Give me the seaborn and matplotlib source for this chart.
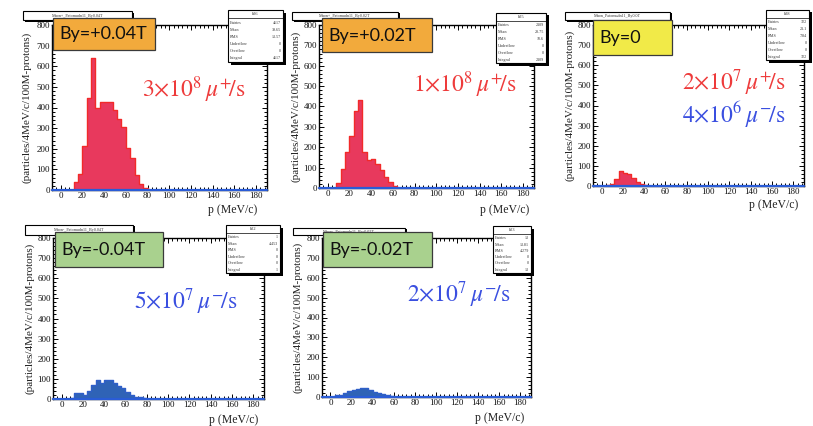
import numpy as np
import pandas as pd
import matplotlib
matplotlib.use("Agg")
import matplotlib.pyplot as plt
from matplotlib.patches import Rectangle
from matplotlib.lines import Line2D
from matplotlib.ticker import MultipleLocator
import seaborn as sns

W, H = 813, 426

# ---------------- data ----------------
field_labels = ["By=+0.04T", "By=+0.02T", "By=0", "By=-0.04T", "By=-0.02T"]
hist_names = ["h26", "h25", "h28", "h22", "h23"]
hist_titles = ["Muon+_Patomudn11_By0.04T", "Muon+_Patomudn11_By0.02T",
               "Muon_Patomudn11_By0.0T", "Muon-_Patomudn11_By0.04T",
               "Muon-_Patomudn11_By-0.02T"]
x_ticks = [0, 20, 40, 60, 80, 100, 120, 140, 160, 180]
y_ticks = [0, 100, 200, 300, 400, 500, 600, 700, 800]

p1_momentum = [14, 18, 22, 26, 30, 34, 38, 42, 46, 50, 54, 58, 62, 66, 70, 74, 78]
p1_counts = [38, 80, 212, 448, 638, 400, 428, 428, 428, 390, 345, 305, 205, 155, 75, 30, 12]

p2_momentum = [10, 14, 18, 22, 26, 30, 34, 38, 42, 46, 50, 54, 58, 62]
p2_counts = [23, 95, 175, 255, 380, 430, 175, 138, 143, 118, 89, 52, 28, 11]

p3_momentum = [6, 10, 14, 18, 22, 26, 30, 34, 38, 42]
p3_counts = [3, 11, 34, 74, 65, 58, 40, 20, 9, 3]

p4_momentum = [10, 14, 18, 22, 26, 30, 34, 38, 42, 46, 50, 54, 58, 62, 66, 70, 74, 78]
p4_counts = [4, 28, 28, 18, 40, 68, 92, 80, 92, 92, 78, 66, 55, 36, 22, 12, 12, 3]

p5_momentum = [6, 10, 14, 18, 22, 26, 30, 34, 38, 42, 46, 50, 54, 58]
p5_counts = [8, 11, 20, 28, 34, 40, 45, 44, 33, 26, 22, 15, 10, 4]

stats_rows = [
    [("Entries", "4617"), ("Mean", "39.65"), ("RMS", "13.57"), ("Underflow", "0"), ("Overflow", "0"), ("Integral", "4617")],
    [("Entries", "2109"), ("Mean", "28.75"), ("RMS", "10.6"), ("Underflow", "0"), ("Overflow", "0"), ("Integral", "2109")],
    [("Entries", "322"), ("Mean", "21.1"), ("RMS", "7.84"), ("Underflow", "0"), ("Overflow", "0"), ("Integral", "322")],
    [("Entries", "1"), ("Mean", "4.453"), ("RMS", "0"), ("Underflow", "0"), ("Overflow", "0"), ("Integral", "1")],
    [("Entries", "13"), ("Mean", "13.81"), ("RMS", "4.279"), ("Underflow", "0"), ("Overflow", "0"), ("Integral", "13")],
]

rate_texts = [
    [r"$3{\times}10^{8}\,\mu^{+}\!/\mathrm{s}$"],
    [r"$1{\times}10^{8}\,\mu^{+}\!/\mathrm{s}$"],
    [r"$2{\times}10^{7}\,\mu^{+}\!/\mathrm{s}$", r"$4{\times}10^{6}\,\mu^{-}\!/\mathrm{s}$"],
    [r"$5{\times}10^{7}\,\mu^{-}\!/\mathrm{s}$"],
    [r"$2{\times}10^{7}\,\mu^{-}\!/\mathrm{s}$"],
]

# ---------------- style ----------------
sns.set_theme(style="white")
plt.rcParams["font.family"] = ["Liberation Serif", "DejaVu Serif"]
plt.rcParams["mathtext.fontset"] = "stix"

RED_FILL, RED_EDGE = "#e8395d", "#f22a2a"
BLUE_FILL, BLUE_EDGE = "#2f63b6", "#2f5fc8"
RED_TXT, BLUE_TXT = "#ee3b3b", "#3a4fe0"
ORANGE, YELLOW, GREEN = "#f2aa3c", "#f1ea48", "#a9d18e"

panels = [
    dict(m=p1_momentum, c=p1_counts, ax=(52, 25, 267, 190), fill=RED_FILL, edge=RED_EDGE,
         box=(53, 18, 155, 50), boxc=ORANGE, title=(23, 11, 132, 20), stats=(228, 10, 283, 62),
         ylab=(27, 107), xlab=(233, 210), rates=[(194, 90, RED_TXT)]),
    dict(m=p2_momentum, c=p2_counts, ax=(319, 25, 534, 188), fill=RED_FILL, edge=RED_EDGE,
         box=(322, 18, 432, 52), boxc=ORANGE, title=(292, 12, 398, 20), stats=(496, 13, 546, 63),
         ylab=(296, 106), xlab=(505, 210), rates=[(465, 85, RED_TXT)]),
    dict(m=p3_momentum, c=p3_counts, ax=(593, 25, 804, 186), fill=RED_FILL, edge=RED_EDGE,
         box=(593, 20, 672, 55), boxc=YELLOW, title=(565, 12, 670, 20), stats=(766, 10, 809, 60),
         ylab=(570, 105), xlab=(774, 205), rates=[(734, 83, RED_TXT), (734, 115, BLUE_TXT)]),
    dict(m=p4_momentum, c=p4_counts, ax=(53, 238, 264, 399), fill=BLUE_FILL, edge=BLUE_EDGE,
         box=(55, 232, 163, 267), boxc=GREEN, title=(25, 225, 133, 235), stats=(226, 225, 280, 273),
         ylab=(30, 318), xlab=(234, 420), rates=[(186, 302, BLUE_TXT)]),
    dict(m=p5_momentum, c=p5_counts, ax=(322, 238, 531, 397), fill=BLUE_FILL, edge=BLUE_EDGE,
         box=(323, 232, 432, 267), boxc=GREEN, title=(293, 228, 405, 235), stats=(493, 226, 531, 273),
         ylab=(298, 317), xlab=(500, 418), rates=[(459, 295, BLUE_TXT)]),
]

fig = plt.figure(figsize=(W / 100, H / 100), dpi=100)
fig.patch.set_facecolor("white")


def fig_rect(x0, y0, x1, y1, **kw):
    r = Rectangle((x0 / W, 1 - y1 / H), (x1 - x0) / W, (y1 - y0) / H,
                  transform=fig.transFigure, **kw)
    fig.add_artist(r)
    return r


def fig_txt(x, y, s, **kw):
    return fig.text(x / W, 1 - y / H, s, **kw)


def root_pave(x0, y0, x1, y1, z, sh=2.5):
    fig_rect(x0 + sh, y0 + sh, x1 + sh, y1 + sh, facecolor="black", edgecolor="none", zorder=z)
    fig_rect(x0, y0, x1, y1, facecolor="white", edgecolor="black", lw=0.8, zorder=z + 0.1)


for i, P in enumerate(panels):
    l, t, r, b = P["ax"]
    ax = fig.add_axes([l / W, 1 - b / H, (r - l) / W, (b - t) / H])
    df = pd.DataFrame({"p": P["m"], "n": P["c"]})
    edges = [m - 2 for m in P["m"]] + [P["m"][-1] + 2]
    sns.histplot(data=df, x="p", weights="n", bins=edges, element="step", fill=True,
                 color=P["fill"], edgecolor=P["edge"], linewidth=1.0, alpha=1, ax=ax)
    ax.axhline(0, color="#2a5cd6", lw=1.6, zorder=5, clip_on=False)
    ax.set_xlim(-8, 190)
    ax.set_ylim(0, 800)
    ax.set_xticks(x_ticks)
    ax.set_yticks(y_ticks)
    ax.xaxis.set_minor_locator(MultipleLocator(4))
    ax.yaxis.set_minor_locator(MultipleLocator(20))
    ax.tick_params(which="both", direction="in", top=True, right=True, bottom=True, left=True,
                   labelsize=6.5, pad=1.5, labelcolor="#111111", color="black", width=0.7)
    ax.tick_params(which="major", length=3.8)
    ax.tick_params(which="minor", length=2.0)
    for s in ax.spines.values():
        s.set_color("black")
        s.set_linewidth(1.0)
    ax.set_facecolor("white")
    ax.set_ylabel("(particles/4MeV/c/100M-protons)", fontsize=8, color="#222222", va="center")
    ax.yaxis.set_label_coords((P["ylab"][0] - l) / (r - l), (b - P["ylab"][1]) / (b - t))
    ax.set_xlabel("p (MeV/c)", fontsize=8.5, color="#222222", va="center", ha="center")
    ax.xaxis.set_label_coords((P["xlab"][0] - l) / (r - l), (b - P["xlab"][1]) / (b - t))

    # ROOT title pave
    tx0, ty0, tx1, ty1 = P["title"]
    root_pave(tx0, ty0, tx1, ty1, z=20, sh=1.5)
    fig_txt((tx0 + tx1) / 2, (ty0 + ty1) / 2, hist_titles[i], fontsize=3, ha="center",
            va="center", color="#333333", zorder=21)

    # ROOT stats pave
    sx0, sy0, sx1, sy1 = P["stats"]
    root_pave(sx0, sy0, sx1, sy1, z=20, sh=2.5)
    fig_txt((sx0 + sx1) / 2, sy0 + 4, hist_names[i], fontsize=3.2, ha="center", va="center",
            color="#333333", zorder=22)
    fig.add_artist(Line2D([sx0 / W, sx1 / W], [1 - (sy0 + 8) / H] * 2, transform=fig.transFigure,
                          color="black", lw=0.5, zorder=22))
    rows = stats_rows[i]
    step = (sy1 - sy0 - 9) / len(rows)
    for k, (lab, val) in enumerate(rows):
        yy = sy0 + 9 + step * (k + 0.5)
        fig_txt(sx0 + 2, yy, lab, fontsize=3, ha="left", va="center", color="#333333", zorder=22)
        fig_txt(sx1 - 2, yy, val, fontsize=3, ha="right", va="center", color="#333333", zorder=22)

    # coloured field label box
    bx0, by0, bx1, by1 = P["box"]
    fig_rect(bx0, by0, bx1, by1, facecolor=P["boxc"], edgecolor="#3a3a3a", lw=0.9, zorder=30)
    fig_txt(bx0 + 6, (by0 + by1) / 2 + 0.5, field_labels[i], fontsize=13, family="Lato",
            ha="left", va="center", color="#111111", zorder=31)

    # rate annotations
    for (cx, cy, col), s in zip(P["rates"], rate_texts[i]):
        fig_txt(cx, cy, s, fontsize=17, ha="center", va="center", color=col, zorder=25)

fig.savefig("out.png", dpi=100)
